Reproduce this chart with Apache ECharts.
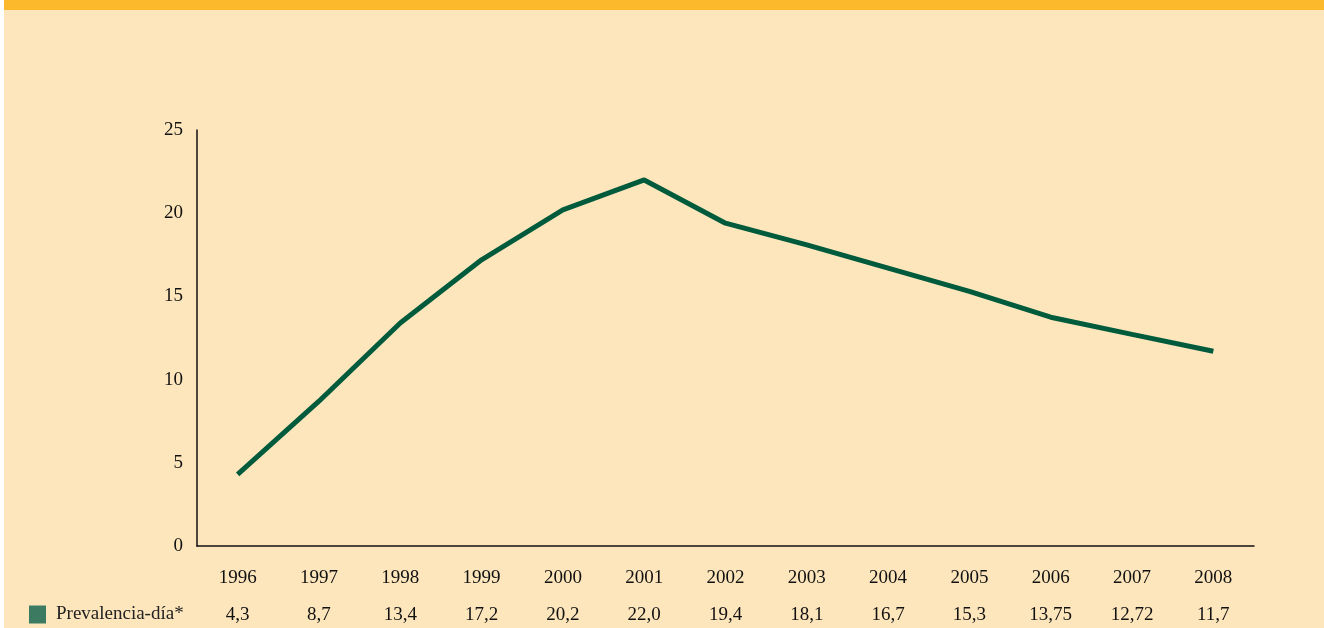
<!DOCTYPE html>
<html>
<head>
<meta charset="utf-8">
<script src="https://cdn.jsdelivr.net/npm/echarts@6/dist/echarts.min.js"></script>
<style>
  html, body { margin: 0; padding: 0; background: #ffffff; }
  #chart { position: absolute; left: 4px; top: 0; width: 1320px; height: 628px; background: #fde6bc; }
</style>
</head>
<body>
<div id="chart"></div>
<script>
var years = ['1996', '1997', '1998', '1999', '2000', '2001', '2002', '2003', '2004', '2005', '2006', '2007', '2008'];
var prevalencia = [4.3, 8.7, 13.4, 17.2, 20.2, 22.0, 19.4, 18.1, 16.7, 15.3, 13.75, 12.72, 11.7];
var valueLabels = ['4,3', '8,7', '13,4', '17,2', '20,2', '22,0', '19,4', '18,1', '16,7', '15,3', '13,75', '12,72', '11,7'];
var seriesName = 'Prevalencia-día*';

var myChart = echarts.init(document.getElementById('chart'));
var font = '"Liberation Serif", "Times New Roman", serif';

option = {
    textStyle: { fontFamily: font },
    graphic: [{
        type: 'rect',
        left: 0, top: 0,
        shape: { width: 1320, height: 10 },
        style: { fill: '#fdb92c' }
    }],
    legend: {
        data: [{ name: seriesName, icon: 'rect' }],
        left: 20,
        top: 600,
        itemWidth: 17,
        itemHeight: 18,
        textStyle: { fontFamily: font, fontSize: 19, color: '#222', padding: [2, 0, 0, 5] }
    },
    grid: { left: 193, right: 70, top: 130, bottom: 82, containLabel: false },
    xAxis: [{
        type: 'category',
        data: years,
        boundaryGap: true,
        axisLine: { lineStyle: { color: '#111', width: 1.5 } },
        axisTick: { show: false },
        axisLabel: { color: '#111', fontSize: 19, fontFamily: font, margin: 23 }
    }, {
        type: 'category',
        data: valueLabels,
        position: 'bottom',
        offset: 60,
        boundaryGap: true,
        axisLine: { show: false },
        axisTick: { show: false },
        axisLabel: { color: '#111', fontSize: 19, fontFamily: font, margin: 0 }
    }],
    yAxis: {
        type: 'value',
        min: 0,
        max: 25,
        interval: 5,
        axisLine: { show: true, lineStyle: { color: '#111', width: 1.5 } },
        axisTick: { show: false },
        splitLine: { show: false },
        axisLabel: { color: '#111', fontSize: 19, fontFamily: font, margin: 14 }
    },
    series: [{
        name: seriesName,
        type: 'line',
        data: prevalencia,
        symbol: 'none',
        color: '#3c7a62',
        lineStyle: { color: '#005a3c', width: 5 },
        animation: false
    }]
};
myChart.setOption(option);
window.onresize = myChart.resize;
</script>
</body>
</html>
